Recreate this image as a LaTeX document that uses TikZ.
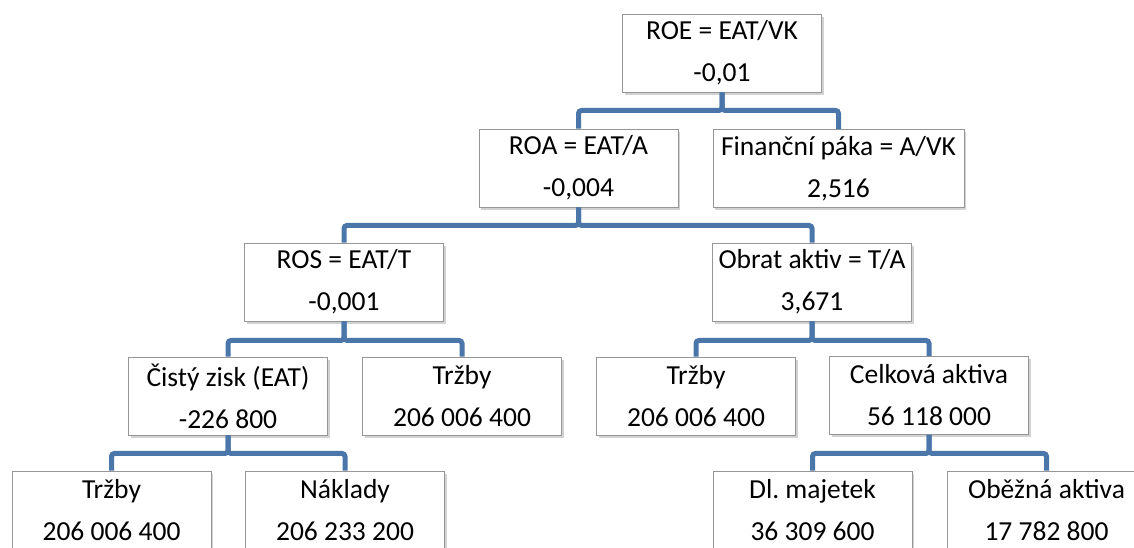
\documentclass[tikz,border=0pt]{standalone}
\usepackage{fontspec}
\setmainfont{Carlito}
\usetikzlibrary{shadows}
\frenchspacing
\definecolor{connblue}{RGB}{74,118,170}
\definecolor{boxgray}{RGB}{150,150,150}
\tikzset{
  box/.style={draw=boxgray, line width=0.9pt, fill=white, minimum width=199pt, minimum height=78pt,
    inner sep=0pt, align=center, font=\fontsize{27.5}{42}\selectfont,
    drop shadow={opacity=0.35, shadow xshift=2pt, shadow yshift=-2.5pt}},
  conn/.style={draw=connblue, line width=5pt, rounded corners=3pt}
}
\begin{document}
\begin{tikzpicture}[x=1pt, y=-1pt]
\useasboundingbox (0,0) rectangle (1134,547);
\clip (0,0) rectangle (1134,547);
\fill[white] (0,0) rectangle (1134,547);
% nodes
\node[box] (roe) at (722,53) {ROE = EAT/VK\\-0,01};
\node[box] (roa) at (578.5,168) {ROA = EAT/A\\-0,004};
\node[box, minimum width=251pt] (fin) at (838.5,168.5) {Finanční páka = A/VK\\2,516};
\node[box] (ros) at (344,282) {ROS = EAT/T\\-0,001};
\node[box] (obr) at (812,282) {Obrat aktiv = T/A\\3,671};
\node[box] (cis) at (228,396) {Čistý zisk (EAT)\\-226 800};
\node[box] (trz1) at (462,396) {Tržby\\206 006 400};
\node[box] (trz2) at (696,396) {Tržby\\206 006 400};
\node[box] (cel) at (929,395.5) {Celková aktiva\\56 118 000};
\node[box] (trz0) at (111.5,510) {Tržby\\206 006 400};
\node[box] (nak) at (345,510) {Náklady\\206 233 200};
\node[box] (dlm) at (812.5,510) {Dl.\ majetek\\36 309 600};
\node[box] (obe) at (1046.5,510) {Oběžná aktiva\\17 782 800};
% connectors
\draw[conn] (roe.south) -- ++(0,18) -| (roa.north);
\draw[conn] (roe.south) -- ++(0,18) -| (fin.north);
\draw[conn] (roa.south) -- ++(0,18) -| (ros.north);
\draw[conn] (roa.south) -- ++(0,18) -| (obr.north);
\draw[conn] (ros.south) -- ++(0,19) -| (cis.north);
\draw[conn] (ros.south) -- ++(0,19) -| (trz1.north);
\draw[conn] (obr.south) -- ++(0,19) -| (trz2.north);
\draw[conn] (obr.south) -- ++(0,19) -| (cel.north);
\draw[conn] (cis.south) -- ++(0,18) -| (trz0.north);
\draw[conn] (cis.south) -- ++(0,18) -| (nak.north);
\draw[conn] (cel.south) -- ++(0,18.5) -| (dlm.north);
\draw[conn] (cel.south) -- ++(0,18.5) -| (obe.north);
\end{tikzpicture}
\end{document}
